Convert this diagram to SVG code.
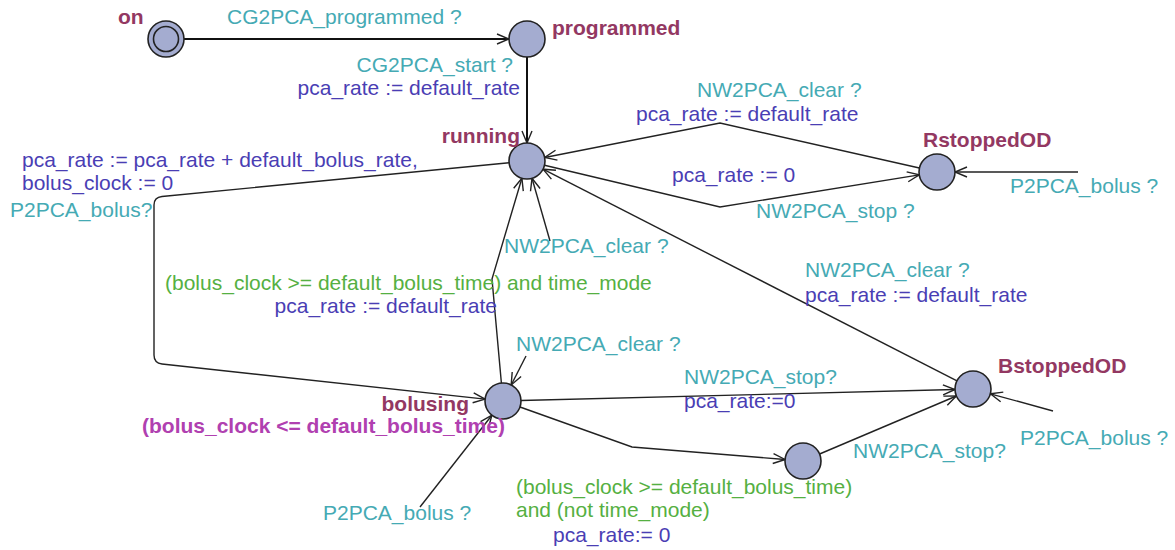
<svg xmlns="http://www.w3.org/2000/svg" width="1175" height="550" viewBox="0 0 1175 550">
<defs>
<marker id="arr" markerUnits="userSpaceOnUse" markerWidth="16" markerHeight="14" refX="13" refY="6" orient="auto" viewBox="0 0 16 12">
<path d="M1,1 L13,6 L1,11" fill="none" stroke="#222" stroke-width="1.4"/>
</marker>
</defs>
<style>
text{font-family:"Liberation Sans",Arial,sans-serif;font-size:21px}
.nm{font-weight:bold;fill:#933862}
.inv{font-weight:bold;fill:#b040b0}
.sy{fill:#45aab4}
.as{fill:#4a3eb4}
.gd{fill:#55b042}
.nd{fill:#a4acd0;stroke:#222;stroke-width:1.6}
.e{fill:none;stroke:#222;stroke-width:1.4;marker-end:url(#arr)}
.eb{fill:none;stroke:#111;stroke-width:2;marker-end:url(#arr)}
</style>
<rect width="1175" height="550" fill="#fff"/>
<g id="connectors">
<path class="eb" d="M184,39 L509,39"/>
<path class="eb" d="M527,57 L527,143"/>
<path class="e" d="M919.4,168 L720,123 L544.7,157.5"/>
<path class="e" d="M544.5,165.3 L720,207 L919.3,174.9"/>
<path class="e" d="M957,380.8 L543,169.2"/>
<path class="e" d="M509.1,162.7 L162,196.5 Q154,197.3 154,205 L154,355 Q154,363 162,364 L485.1,399.1"/>
<path class="e" d="M501.4,383.1 L492,279 L521.9,178.2"/>
<path class="e" d="M550,241 L532,178.3"/>
<path class="e" d="M526,356 L511.2,385"/>
<path class="e" d="M420,507 L491.9,415.2"/>
<path class="e" d="M521,400.5 L955,389.5"/>
<path class="e" d="M520,407 L632,447 L785.1,459.5"/>
<path class="e" d="M819.6,454 L956.4,396"/>
<path class="e" d="M1053,411 L990.4,393.8"/>
<path class="e" d="M1078,172 L955,172"/>
</g>
<g id="labels">
<text class="sy" x="227" y="24">CG2PCA_programmed ?</text>
<text class="sy" x="513" y="72" text-anchor="end">CG2PCA_start ?</text>
<text class="as" x="520" y="95" text-anchor="end">pca_rate := default_rate</text>
<text class="sy" x="697" y="97">NW2PCA_clear ?</text>
<text class="as" x="636" y="121">pca_rate := default_rate</text>
<text class="as" x="672" y="182">pca_rate := 0</text>
<text class="sy" x="756" y="218">NW2PCA_stop ?</text>
<text class="sy" x="1010" y="193">P2PCA_bolus ?</text>
<text class="as" x="22" y="166.5">pca_rate := pca_rate + default_bolus_rate,</text>
<text class="as" x="22" y="190">bolus_clock := 0</text>
<text class="sy" x="10" y="217">P2PCA_bolus?</text>
<text class="sy" x="504" y="253">NW2PCA_clear ?</text>
<text class="sy" x="805" y="277">NW2PCA_clear ?</text>
<text class="as" x="805" y="302">pca_rate := default_rate</text>
<text class="gd" x="165" y="290">(bolus_clock &gt;= default_bolus_time) and time_mode</text>
<text class="as" x="497" y="313" text-anchor="end">pca_rate := default_rate</text>
<text class="sy" x="516" y="351">NW2PCA_clear ?</text>
<text class="sy" x="684" y="384">NW2PCA_stop?</text>
<text class="as" x="684" y="408">pca_rate:=0</text>
<text class="sy" x="1020" y="445">P2PCA_bolus ?</text>
<text class="sy" x="853" y="458">NW2PCA_stop?</text>
<text class="gd" x="516" y="494">(bolus_clock &gt;= default_bolus_time)</text>
<text class="gd" x="516" y="517">and (not time_mode)</text>
<text class="as" x="553" y="542">pca_rate:= 0</text>
<text class="sy" x="323" y="520">P2PCA_bolus ?</text>
</g>
<g id="on">
<circle class="nd" cx="166" cy="39" r="18"/>
<circle fill="none" stroke="#222" stroke-width="1.6" cx="166" cy="39" r="12.5"/>
<text class="nm" x="118" y="24">on</text>
</g>
<g id="programmed">
<circle class="nd" cx="527" cy="39" r="18"/>
<text class="nm" x="552" y="35">programmed</text>
</g>
<g id="running">
<circle class="nd" cx="527" cy="161" r="18"/>
<text class="nm" x="520" y="143" text-anchor="end">running</text>
</g>
<g id="RstoppedOD">
<circle class="nd" cx="937" cy="172" r="18"/>
<text class="nm" x="923" y="147">RstoppedOD</text>
</g>
<g id="bolusing">
<circle class="nd" cx="503" cy="401" r="18"/>
<text class="nm" x="469" y="411" text-anchor="end">bolusing</text>
<text class="inv" x="142" y="433">(bolus_clock &lt;= default_bolus_time)</text>
</g>
<g id="BstoppedOD">
<circle class="nd" cx="973" cy="389" r="18"/>
<text class="nm" x="998" y="373">BstoppedOD</text>
</g>
<g id="unnamed">
<circle class="nd" cx="803" cy="461" r="18"/>
</g>
</svg>
